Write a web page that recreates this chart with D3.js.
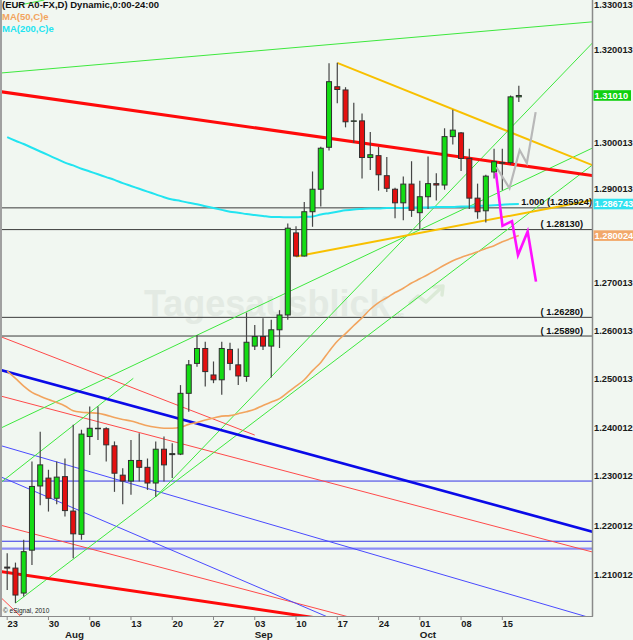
<!DOCTYPE html>
<html><head><meta charset="utf-8">
<script src="https://cdn.jsdelivr.net/npm/d3@7"></script>
<style>
html,body{margin:0;padding:0;background:#f1f7f1;}
svg{display:block;font-family:"Liberation Sans",Arial,sans-serif;}
</style>
</head><body>
<svg id="c" width="633" height="640"></svg>
<script>
// ---------- data ----------
const dates = ["2012-07-23","2012-07-24","2012-07-25","2012-07-26","2012-07-27","2012-07-30","2012-07-31",
"2012-08-01","2012-08-02","2012-08-03","2012-08-06","2012-08-07","2012-08-08","2012-08-09","2012-08-10",
"2012-08-13","2012-08-14","2012-08-15","2012-08-16","2012-08-17","2012-08-20","2012-08-21","2012-08-22",
"2012-08-23","2012-08-24","2012-08-27","2012-08-28","2012-08-29","2012-08-30","2012-08-31",
"2012-09-03","2012-09-04","2012-09-05","2012-09-06","2012-09-07","2012-09-10","2012-09-11","2012-09-12",
"2012-09-13","2012-09-14","2012-09-17","2012-09-18","2012-09-19","2012-09-20","2012-09-21","2012-09-24",
"2012-09-25","2012-09-26","2012-09-27","2012-09-28",
"2012-10-01","2012-10-02","2012-10-03","2012-10-04","2012-10-05","2012-10-08","2012-10-09","2012-10-10",
"2012-10-11","2012-10-12","2012-10-15","2012-10-16","2012-10-17"];
const open  = [1.2116,1.2114,1.2064,1.2150,1.2280,1.2296,1.2255,1.2299,1.2229,1.2182,1.2381,1.2398,1.2397,1.2362,1.2302,
1.2290,1.2332,1.2318,1.2286,1.2355,1.2344,1.2345,1.2470,1.2532,1.2563,1.2508,1.2498,1.2561,1.2529,1.2505,
1.2568,1.2588,1.2568,1.2602,1.2633,1.2806,1.2757,1.2851,1.2899,1.2989,1.3120,1.3113,1.3045,1.3046,1.2967,
1.2971,1.2928,1.2899,1.2870,1.2910,1.2849,1.2883,1.2911,1.2908,1.3012,1.3020,1.2965,1.2880,1.2853,1.2936,
1.2955,1.2956,1.3098];
const high  = [1.2144,1.2125,1.2171,1.2330,1.2391,1.2313,1.2330,1.2336,1.2405,1.2395,1.2443,1.2443,1.2400,1.2371,1.2316,
1.2374,1.2388,1.2336,1.2371,1.2381,1.2367,1.2487,1.2539,1.2591,1.2577,1.2536,1.2577,1.2575,1.2563,1.2638,
1.2612,1.2626,1.2623,1.2643,1.2826,1.2820,1.2872,1.2937,1.2990,1.3171,1.3172,1.3119,1.3085,1.3062,1.3022,
1.2990,1.2968,1.2902,1.2926,1.2959,1.2917,1.2969,1.2933,1.3030,1.3070,1.3022,1.2986,1.2911,1.2930,1.2986,
1.2986,1.3101,1.3122];
const low   = [1.2070,1.2044,1.2057,1.2120,1.2241,1.2228,1.2243,1.2218,1.2134,1.2171,1.2343,1.2374,1.2330,1.2268,1.2243,
1.2262,1.2289,1.2272,1.2258,1.2289,1.2296,1.2343,1.2432,1.2525,1.2484,1.2491,1.2467,1.2518,1.2487,1.2494,
1.2560,1.2560,1.2503,1.2564,1.2623,1.2756,1.2756,1.2819,1.2862,1.2982,1.3084,1.3032,1.2998,1.2922,1.2940,
1.2896,1.2893,1.2837,1.2833,1.2840,1.2813,1.2857,1.2875,1.2898,1.2995,1.2938,1.2857,1.2836,1.2828,1.2922,
1.2897,1.2951,1.3087];
const close = [1.2114,1.2060,1.2147,1.2279,1.2323,1.2255,1.2298,1.2230,1.2183,1.2386,1.2398,1.2397,1.2364,1.2306,1.2290,
1.2332,1.2318,1.2286,1.2355,1.2323,1.2346,1.2470,1.2529,1.2563,1.2515,1.2498,1.2563,1.2532,1.2506,1.2576,
1.2588,1.2568,1.2602,1.2633,1.2816,1.2757,1.2851,1.2899,1.2987,1.3131,1.3114,1.3044,1.3046,1.2967,1.2973,
1.2930,1.2901,1.2870,1.2910,1.2854,1.2883,1.2911,1.2908,1.3012,1.3026,1.2965,1.2880,1.2851,1.2927,1.2958,
1.2956,1.3098,1.3101];
const ma50  = [1.2516,1.2501,1.2485,1.2472,1.2464,1.2457,1.2451,1.2444,1.2434,1.2431,1.2430,1.2429,1.2425,1.2420,1.2416,
1.2413,1.2408,1.2403,1.2400,1.2398,1.2398,1.2400,1.2406,1.2410,1.2415,1.2419,1.2423,1.2424,1.2428,1.2432,
1.2437,1.2445,1.2452,1.2459,1.2472,1.2485,1.2498,1.2517,1.2534,1.2557,1.2578,1.2594,1.2611,1.2627,1.2645,
1.2659,1.2669,1.2680,1.2689,1.2700,1.2709,1.2718,1.2728,1.2738,1.2747,1.2754,1.2760,1.2766,1.2773,1.2779,
1.2787,1.2794,1.280024];
const ma200 = [1.3011,1.3003,1.2996,1.2988,1.2980,1.2972,1.2964,1.2956,1.2950,1.2943,1.2937,1.2931,1.2925,1.2919,1.2912,
1.2906,1.2900,1.2894,1.2888,1.2882,1.2877,1.2874,1.2870,1.2867,1.2863,1.2859,1.2855,1.2851,1.2849,1.2846,
1.2844,1.2842,1.2840,1.2840,1.2839,1.2839,1.2840,1.2841,1.2845,1.2848,1.2851,1.2854,1.2856,1.2857,1.2858,
1.2858,1.2859,1.2859,1.2859,1.2860,1.2860,1.2860,1.2861,1.2861,1.2861,1.2862,1.2862,1.2863,1.2864,1.2865,
1.2866,1.2867,1.286743];
const yTicks = [1.330013,1.320013,1.310013,1.300013,1.290013,1.280013,1.270013,1.260013,1.250013,1.240012,1.230012,1.220012,1.210012];
const monthNames = ["Jan","Feb","Mar","Apr","May","Jun","Jul","Aug","Sep","Oct","Nov","Dec"];
const fibLevels = [1.285924, 1.28130, 1.26280, 1.25890];
const fibLabels = ["1.000 (1.285924)", "( 1.28130)", "( 1.26280)", "( 1.25890)"];
const blueLevels = [1.2290, 1.2168];
const blueLevelsWide = [1.2153];
// trendlines: [startIndex, startPrice, endIndex, endPrice]
const greenLines = [[-0.7,1.3150,71,1.3262],[-0.7,1.2399,71,1.2988],[-0.7,1.2288,15.28,1.2501],
                    [1,1.2044,71,1.2952],[18,1.2258,71,1.3217],[1.3,1.3298,4.5,1.3310]];
const redThick = [[-0.7,1.3109,71,1.2928],[-0.7,1.2107,38,1.2013]];
const redThin  = [[-0.7,1.2464,71,1.2146],[-0.7,1.2200,44,1.2005],[-0.7,1.2054,2.04,1.2011],[-0.7,1.2587,30,1.2384]];
const blueThick = [[-0.7,1.2518,71,1.2187]];
const blueThin  = [[-0.7,1.2362,71,1.2013],[-0.7,1.2298,40,1.2008]];
const goldLines = [[40,1.3172,71,1.2950],[35,1.2756,71,1.2876]];
const grayPath = [[59.29,1.2946],[60.87,1.2901],[62.1,1.2983],[62.97,1.2955],[64.04,1.3065]];
const magentaPath = [[59.23,1.2934],[60.02,1.2821],[61.17,1.2831],[61.9,1.2759],[63.07,1.2809],[64.08,1.2703]];

// ---------- layout ----------
const W = 633, H = 640;
const plot = {l: 2, r: 592, t: 0, b: 616};
const svg = d3.select("#c");
const x = d3.scaleLinear().domain([0, dates.length - 1]).range([7.2, 7.2 + 62 * 8.252]);
const y = d3.scaleLog().domain([1.210012, 1.320013]).range([575, 50]);
const BG = "#f1f7f1";

svg.append("rect").attr("width", W).attr("height", H).attr("fill", BG);
svg.append("defs").append("clipPath").attr("id", "pc")
  .append("rect").attr("x", plot.l).attr("y", plot.t).attr("width", plot.r - plot.l).attr("height", plot.b - plot.t);

// watermark (one text element, ".de" as a small tspan)
const wm = svg.append("g");
const wt = wm.append("text").attr("x", 144).attr("y", 316).attr("font-weight", "bold").attr("fill", "#e3eae3");
wt.append("tspan").attr("font-size", 36).text("Tagesausblick");
wt.append("tspan").attr("font-size", 8).attr("dx", 3).attr("dy", 1).attr("fill", "#e0e8e0").text(".de");
wm.append("path").attr("d", "M410,303 L418,296 L426,302 L441,288 M434,287 L443,286 L442,295")
  .attr("fill", "none").attr("stroke", "#dcead8").attr("stroke-width", 3.5).attr("stroke-linejoin", "round").attr("stroke-linecap", "round");

const g = svg.append("g").attr("clip-path", "url(#pc)");

// horizontal fib levels
g.selectAll(".fib").data(fibLevels).join("line")
  .attr("x1", plot.l).attr("x2", plot.r).attr("y1", d => y(d)).attr("y2", d => y(d))
  .attr("stroke", "#3a3a3a").attr("stroke-width", 1);
g.selectAll(".bl").data(blueLevels).join("line")
  .attr("x1", plot.l).attr("x2", plot.r).attr("y1", d => y(d)).attr("y2", d => y(d))
  .attr("stroke", "#3333e6").attr("stroke-width", 1);
g.selectAll(".blw").data(blueLevelsWide).join("line")
  .attr("x1", plot.l).attr("x2", plot.r).attr("y1", d => y(d)).attr("y2", d => y(d))
  .attr("stroke", "#8c8cf5").attr("stroke-width", 2.2);

function drawLines(arr, color, w) {
  g.append("g").selectAll("line").data(arr).join("line")
    .attr("x1", d => x(d[0])).attr("y1", d => y(d[1]))
    .attr("x2", d => x(d[2])).attr("y2", d => y(d[3]))
    .attr("stroke", color).attr("stroke-width", w);
}
drawLines(redThin, "#ff4a4a", 1);
drawLines(blueThin, "#4a4aff", 1);
drawLines(greenLines, "#3ee83e", 1);
drawLines(blueThick, "#0a0ae8", 2.6);
drawLines(redThick, "#ff0a0a", 3);
drawLines(goldLines, "#f8c000", 2);

// moving averages
const maLine = d3.line().x((d, i) => x(i)).y(d => y(d)).curve(d3.curveMonotoneX);
g.append("path").attr("d", maLine(ma200)).attr("fill", "none").attr("stroke", "#22e4f0").attr("stroke-width", 2);
g.append("path").attr("d", maLine(ma50)).attr("fill", "none").attr("stroke", "#f2a45e").attr("stroke-width", 1.6);

// candles
const idx = d3.range(dates.length);
g.append("g").selectAll("line").data(idx).join("line")
  .attr("x1", i => x(i)).attr("x2", i => x(i))
  .attr("y1", i => y(high[i])).attr("y2", i => y(low[i]))
  .attr("stroke", "#454545").attr("stroke-width", 1.2);
g.append("g").selectAll("rect").data(idx).join("rect")
  .attr("x", i => x(i) - 2.5).attr("width", 5)
  .attr("y", i => Math.min(y(open[i]), y(close[i])))
  .attr("height", i => Math.max(0.5, Math.abs(y(open[i]) - y(close[i]))))
  .attr("fill", i => close[i] >= open[i] ? "#14dc14" : "#e41010")
  .attr("stroke", "#303030").attr("stroke-width", 1);

// projection zigzags
const pl = d3.line().x(d => x(d[0])).y(d => y(d[1]));
g.append("path").attr("d", pl(grayPath)).attr("fill", "none").attr("stroke", "#b8b8b8").attr("stroke-width", 2.2);
g.append("path").attr("d", pl(magentaPath)).attr("fill", "none").attr("stroke", "#ff10ff").attr("stroke-width", 2.6);

// fib labels
const fibEnd = [plot.r, plot.r - 9, plot.r - 9, plot.r - 9];
g.selectAll(".fl").data(fibLevels).join("text")
  .attr("x", (d, i) => fibEnd[i]).attr("y", d => y(d) - 2.5).attr("text-anchor", "end")
  .attr("font-size", 9.3).attr("font-weight", "bold").attr("fill", "#111")
  .text((d, i) => fibLabels[i]);

// copyright
svg.append("text").attr("x", 3).attr("y", 613).attr("font-size", 6.5).attr("fill", "#222").text("\u00a9 eSignal, 2010");

// frame
svg.append("line").attr("x1", 1).attr("x2", 1).attr("y1", 0).attr("y2", plot.b).attr("stroke", "#a0a0a0").attr("stroke-width", 2);
svg.append("line").attr("x1", plot.r + 0.5).attr("x2", plot.r + 0.5).attr("y1", 0).attr("y2", plot.b + 0.5).attr("stroke", "#8a8a8a").attr("stroke-width", 1.5);
svg.append("line").attr("x1", 0).attr("x2", plot.r + 1).attr("y1", plot.b + 0.5).attr("y2", plot.b + 0.5).attr("stroke", "#8a8a8a").attr("stroke-width", 1.2);

// value boxes
const boxes = [
  {v: close[close.length - 1], t: close[close.length - 1].toFixed(5), c: "#10d010"},
  {v: ma200[ma200.length - 1], t: ma200[ma200.length - 1].toFixed(6), c: "#30e2f0"},
  {v: ma50[ma50.length - 1], t: ma50[ma50.length - 1].toFixed(6), c: "#f2a86a"}
];

// y axis labels (those hidden under a value box are left out)
const visibleTicks = yTicks.filter(t => boxes.every(b => Math.abs(y(t) - y(b.v)) > 8));
svg.append("g").selectAll("text").data(visibleTicks).join("text")
  .attr("x", 594).attr("y", d => y(d) + 3.4)
  .attr("font-size", 9.3).attr("font-weight", "bold").attr("fill", "#1a1a1a")
  .text(d => d.toFixed(6));

const bg = svg.append("g");
bg.selectAll("rect").data(boxes).join("rect")
  .attr("x", 593.5).attr("y", d => y(d.v) - 5.3).attr("width", (d, i) => i === 0 ? 37.5 : 40).attr("height", 10.6)
  .attr("fill", d => d.c);
bg.selectAll("text").data(boxes).join("text")
  .attr("x", 594.5).attr("y", d => y(d.v) + 3.4)
  .attr("font-size", 9.3).attr("font-weight", "bold").attr("fill", "#fff").text(d => d.t);

// x axis
const parsed = dates.map(d => new Date(d + "T12:00:00"));
const mondays = idx.filter(i => parsed[i].getDay() === 1);
svg.append("g").selectAll("line").data(mondays).join("line")
  .attr("x1", i => x(i)).attr("x2", i => x(i)).attr("y1", plot.b).attr("y2", plot.b + 4)
  .attr("stroke", "#8a8a8a").attr("stroke-width", 1);
svg.append("g").selectAll("text").data(mondays).join("text")
  .attr("x", i => x(i) + 0.3).attr("y", 626.8)
  .attr("font-size", 9.3).attr("font-weight", "bold").attr("fill", "#1a1a1a")
  .text(i => String(parsed[i].getDate()).padStart(2, "0"));
const monthStarts = idx.filter(i => i > 0 && parsed[i].getMonth() !== parsed[i - 1].getMonth());
svg.append("g").selectAll("text").data(monthStarts).join("text")
  .attr("x", i => x(i)).attr("y", 638)
  .attr("font-size", 9.8).attr("font-weight", "bold").attr("fill", "#1a1a1a")
  .text(i => monthNames[parsed[i].getMonth()]);

// legend
const lg = svg.append("g").attr("font-weight", "bold").attr("font-size", 9.5);
lg.append("text").attr("x", 2).attr("y", 8).attr("fill", "#111").text("(EUR A0-FX,D) Dynamic,0:00-24:00");
lg.append("text").attr("x", 2).attr("y", 19.8).attr("fill", "#f2a45e").text("MA(50,C)e");
lg.append("text").attr("x", 2).attr("y", 31.8).attr("fill", "#22e4f0").text("MA(200,C)e");
</script>
</body></html>
